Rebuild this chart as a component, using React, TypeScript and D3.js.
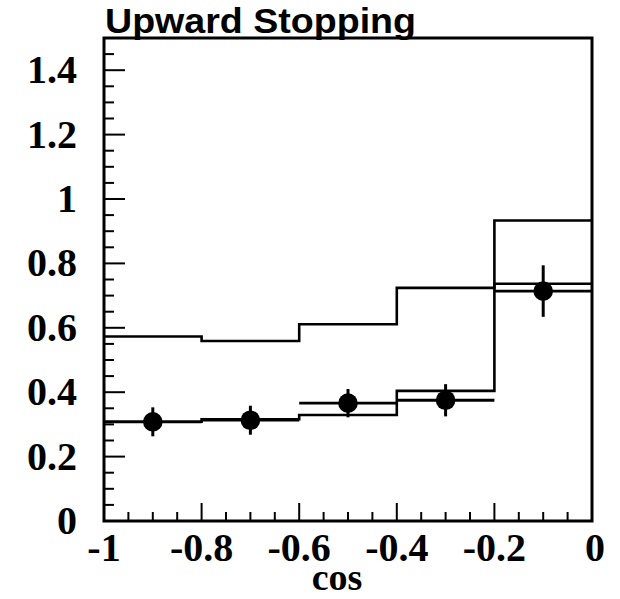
import React from "react";
import * as d3 from "d3";

const binEdges = [-1, -0.8, -0.6, -0.4, -0.2, 0];
const upperHist = [0.573, 0.559, 0.611, 0.724, 0.933];
const lowerHist = [0.308, 0.316, 0.329, 0.404, 0.737];
const dataX = [-0.9, -0.7, -0.5, -0.3, -0.1];
const dataY = [0.308, 0.313, 0.366, 0.375, 0.714];
const dataErr = [0.045, 0.045, 0.044, 0.05, 0.08];
const dataXErr = [0.1, 0.1, 0.1, 0.1, 0.1];
const yTickValues = [0, 0.2, 0.4, 0.6, 0.8, 1.0, 1.2, 1.4];
const yTickLabels = ["0", "0.2", "0.4", "0.6", "0.8", "1", "1.2", "1.4"];
const xTickValues = [-1, -0.8, -0.6, -0.4, -0.2, 0];
const xTickLabels = ["-1", "-0.8", "-0.6", "-0.4", "-0.2", "0"];
const titleText = "Upward Stopping";
const xAxisLabel = "cos";

export default function App() {
  const W = 620, H = 599;
  const left = 104, right = 592, top = 38, bottom = 521;
  const x = d3.scaleLinear().domain([-1, 0]).range([left, right]);
  const y = d3.scaleLinear().domain([0, 1.5]).range([bottom, top]);

  const stepPts = (vals: number[]) => {
    const pts: [number, number][] = [];
    vals.forEach((v, i) => {
      pts.push([binEdges[i], v]);
      pts.push([binEdges[i + 1], v]);
    });
    return pts;
  };
  const line = d3
    .line<[number, number]>()
    .x((d) => x(d[0]))
    .y((d) => y(d[1]));

  const yMinor = d3.range(0, 1.5001, 0.05).filter((v) => Math.abs(Math.round(v / 0.2) * 0.2 - v) > 1e-6);
  const xMinor = d3.range(-1, 0.0001, 0.05).filter((v) => Math.abs(Math.round(v / 0.2) * 0.2 - v) > 1e-6);

  const serif = "'Liberation Serif', 'Times New Roman', serif";
  const sans = "'Liberation Sans', Arial, Helvetica, sans-serif";

  return (
    <svg
      width={W}
      height={H}
      viewBox={`0 0 ${W} ${H}`}
      style={{ position: "absolute", left: 0, top: 0, background: "#fff" }}
    >
      <rect x={0} y={0} width={W} height={H} fill="#fff" />
      {/* histograms */}
      <path d={line(stepPts(upperHist)) || ""} fill="none" stroke="#000" strokeWidth={2.6} />
      <path d={line(stepPts(lowerHist)) || ""} fill="none" stroke="#000" strokeWidth={2.6} />

      {/* data points */}
      {dataX.map((dx, i) => (
        <g key={i}>
          <line
            x1={x(dx - dataXErr[i])}
            x2={x(dx + dataXErr[i])}
            y1={y(dataY[i])}
            y2={y(dataY[i])}
            stroke="#000"
            strokeWidth={2.8}
          />
          <line
            x1={x(dx)}
            x2={x(dx)}
            y1={y(dataY[i] - dataErr[i])}
            y2={y(dataY[i] + dataErr[i])}
            stroke="#000"
            strokeWidth={3}
          />
          <circle cx={x(dx)} cy={y(dataY[i])} r={9.8} fill="#000" />
        </g>
      ))}

      {/* y ticks */}
      {yTickValues.map((v) => (
        <line key={"ym" + v} x1={left} x2={left + 21} y1={y(v)} y2={y(v)} stroke="#000" strokeWidth={2} />
      ))}
      {yMinor.map((v) => (
        <line key={"yn" + v} x1={left} x2={left + 10} y1={y(v)} y2={y(v)} stroke="#000" strokeWidth={2} />
      ))}
      {/* x ticks */}
      {xTickValues.map((v) => (
        <line key={"xm" + v} x1={x(v)} x2={x(v)} y1={bottom} y2={bottom - 18} stroke="#000" strokeWidth={2} />
      ))}
      {xMinor.map((v) => (
        <line key={"xn" + v} x1={x(v)} x2={x(v)} y1={bottom} y2={bottom - 9} stroke="#000" strokeWidth={2} />
      ))}

      {/* frame */}
      <rect
        x={left}
        y={top}
        width={right - left}
        height={bottom - top}
        fill="none"
        stroke="#000"
        strokeWidth={3}
      />

      {/* y tick labels */}
      {yTickValues.map((v, i) => (
        <text
          key={"yl" + v}
          x={77}
          y={y(v) + 13}
          textAnchor="end"
          fontFamily={serif}
          fontWeight="bold"
          fontSize={40}
          fill="#000"
        >
          {yTickLabels[i]}
        </text>
      ))}
      {/* x tick labels */}
      {xTickValues.map((v, i) => (
        <text
          key={"xl" + v}
          x={x(v) + (i === xTickValues.length - 1 ? 3 : 0)}
          y={561}
          textAnchor="middle"
          fontFamily={serif}
          fontWeight="bold"
          fontSize={40}
          fill="#000"
        >
          {xTickLabels[i]}
        </text>
      ))}
      <text
        x={337}
        y={590}
        textAnchor="middle"
        fontFamily={serif}
        fontWeight="bold"
        fontSize={38}
        fill="#000"
      >
        {xAxisLabel}
      </text>

      {/* title */}
      <text
        x={105}
        y={33}
        fontFamily={sans}
        fontWeight="bold"
        fontSize={35}
        textLength={311}
        lengthAdjust="spacingAndGlyphs"
        fill="#000"
      >
        {titleText}
      </text>
    </svg>
  );
}
